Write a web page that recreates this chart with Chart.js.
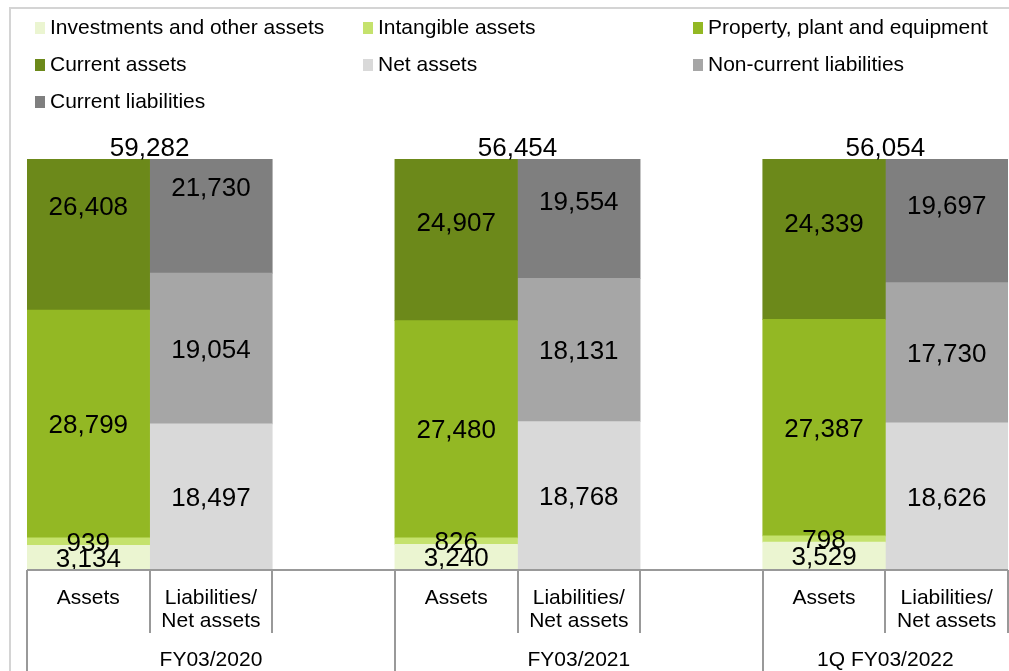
<!DOCTYPE html>
<html>
<head>
<meta charset="utf-8">
<script src="https://cdn.jsdelivr.net/npm/chart.js@4/dist/chart.umd.min.js"></script>
<style>
  body { margin: 0; background: #fff; }
  canvas { display: block; }
</style>
</head>
<body>
<canvas id="myChart" width="1009" height="671"></canvas>
<script>
// categories (empty slot = gap between years)
var categories = ['Assets', ['Liabilities/', 'Net assets'], '', 'Assets', ['Liabilities/', 'Net assets'], '', 'Assets', ['Liabilities/', 'Net assets']];
var groupLabels = ['FY03/2020', 'FY03/2021', '1Q FY03/2022'];

// values (million yen)
var investments    = [3134, null, null, 3240, null, null, 3529, null];
var intangible     = [939, null, null, 826, null, null, 798, null];
var ppe            = [28799, null, null, 27480, null, null, 27387, null];
var currentAssets  = [26408, null, null, 24907, null, null, 24339, null];
var netAssets      = [null, 18497, null, null, 18768, null, null, 18626];
var nonCurrentLiab = [null, 19054, null, null, 18131, null, null, 17730];
var currentLiab    = [null, 21730, null, null, 19554, null, null, 19697];
var totals = [59282, 56454, 56054];

var FONT = '"Liberation Sans", Arial, sans-serif';

function fmt(v) {
  return v.toLocaleString('en-US');
}

var chartData = {
  labels: categories,
  datasets: [
    { label: 'Investments and other assets', data: investments, backgroundColor: '#EBF5D1' },
    { label: 'Intangible assets', data: intangible, backgroundColor: '#C5E26D' },
    { label: 'Property, plant and equipment', data: ppe, backgroundColor: '#93B824' },
    { label: 'Current assets', data: currentAssets, backgroundColor: '#6C891A' },
    { label: 'Net assets', data: netAssets, backgroundColor: '#D9D9D9' },
    { label: 'Non-current liabilities', data: nonCurrentLiab, backgroundColor: '#A6A6A6' },
    { label: 'Current liabilities', data: currentLiab, backgroundColor: '#7F7F7F' }
  ]
};

var drawStuff = {
  id: 'drawStuff',
  beforeDraw: function(chart) {
    var ctx = chart.ctx;
    ctx.save();
    ctx.fillStyle = '#fff';
    ctx.fillRect(0, 0, chart.width, chart.height);
    // outer frame
    ctx.strokeStyle = '#d4d4d4';
    ctx.lineWidth = 2;
    ctx.beginPath();
    ctx.moveTo(10, 680);
    ctx.lineTo(10, 8);
    ctx.lineTo(1020, 8);
    ctx.stroke();
    ctx.restore();
  },
  afterDatasetsDraw: function(chart) {
    var ctx = chart.ctx;
    ctx.save();
    ctx.fillStyle = '#000';
    ctx.textAlign = 'center';
    ctx.textBaseline = 'middle';
    ctx.font = '26px ' + FONT;
    chart.data.datasets.forEach(function(ds, i) {
      var meta = chart.getDatasetMeta(i);
      meta.data.forEach(function(bar, j) {
        var v = ds.data[j];
        if (v == null) return;
        var cy = (bar.y + bar.base) / 2;
        ctx.fillText(fmt(v), bar.x, cy + 2);
      });
    });
    // totals above each pair
    var xs = chart.scales.x;
    totals.forEach(function(t, g) {
      var x = (xs.getPixelForValue(g * 3) + xs.getPixelForValue(g * 3 + 1)) / 2;
      ctx.fillText(fmt(t), x, chart.chartArea.top - 10);
    });
    ctx.restore();
  },
  afterDraw: function(chart) {
    var ctx = chart.ctx;
    var xs = chart.scales.x;
    var area = chart.chartArea;
    var w = xs.width / categories.length;
    ctx.save();

    // axis line + category separators
    ctx.strokeStyle = '#999';
    ctx.lineWidth = 2;
    ctx.beginPath();
    ctx.moveTo(area.left, area.bottom);
    ctx.lineTo(area.right, area.bottom);
    for (var i = 0; i <= categories.length; i++) {
      var x = Math.round(xs.getPixelForValue(0) - w / 2 + i * w);
      var yEnd = (i % 3 == 0 && i < categories.length) ? chart.height : area.bottom + 63;
      ctx.moveTo(x, area.bottom);
      ctx.lineTo(x, yEnd);
    }
    ctx.stroke();

    // category labels
    ctx.fillStyle = '#000';
    ctx.textAlign = 'center';
    ctx.textBaseline = 'middle';
    ctx.font = '21px ' + FONT;
    categories.forEach(function(lab, i) {
      var x = xs.getPixelForValue(i);
      var lines = Array.isArray(lab) ? lab : [lab];
      lines.forEach(function(s, k) {
        ctx.fillText(s, x, area.bottom + 28 + k * 23);
      });
    });
    groupLabels.forEach(function(lab, g) {
      var left = xs.getPixelForValue(g * 3) - w / 2;
      var n = Math.min(3, categories.length - g * 3);
      ctx.fillText(lab, left + n * w / 2, area.bottom + 90);
    });

    // legend, 3 columns
    var colX = [35, 363, 693];
    var rowY = [28, 65, 102];
    ctx.textAlign = 'left';
    chart.data.datasets.forEach(function(ds, i) {
      var cx = colX[i % 3];
      var cy = rowY[Math.floor(i / 3)];
      ctx.fillStyle = ds.backgroundColor;
      ctx.fillRect(cx, cy - 6, 10, 12);
      ctx.fillStyle = '#000';
      ctx.fillText(ds.label, cx + 15, cy);
    });
    ctx.restore();
  }
};

var chartConfig = {
  type: 'bar',
  data: chartData,
  options: {
    responsive: false,
    animation: false,
    datasets: { bar: { categoryPercentage: 1, barPercentage: 1, borderWidth: 0 } },
    layout: { padding: { left: 27, right: 1, top: 159, bottom: 101 } },
    plugins: { legend: { display: false }, tooltip: { enabled: false } },
    scales: {
      x: { stacked: true, display: false },
      y: { stacked: true, display: false, min: 0, max: 52000 }
    }
  },
  plugins: [drawStuff]
};

var myChart = new Chart(document.getElementById('myChart'), chartConfig);
</script>
</body>
</html>
